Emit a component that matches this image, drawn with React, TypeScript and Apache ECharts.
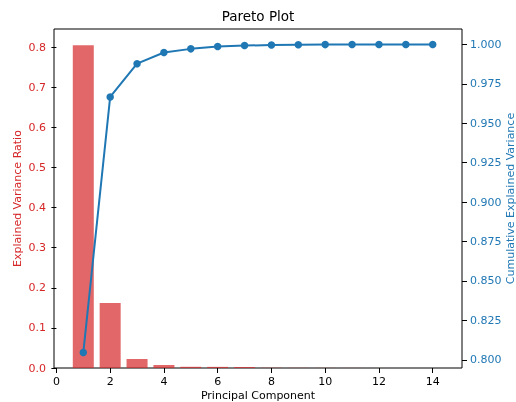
import React, { useEffect, useRef } from "react";
import * as echarts from "echarts";

const components = [1, 2, 3, 4, 5, 6, 7, 8, 9, 10, 11, 12, 13, 14];
const explainedRatio = [0.8046, 0.1621, 0.0222, 0.0075, 0.003, 0.0028, 0.0025, 0.0006, 0.0004, 0.0003, 0.0002, 0.0001, 0.00005, 0.00002];
const cumulative = [0.8046, 0.9667, 0.9878, 0.9949, 0.9972, 0.9987, 0.9993, 0.9996, 0.9998, 0.9999, 0.99995, 0.99998, 0.99999, 1.0];
const xTicks = [0, 2, 4, 6, 8, 10, 12, 14];
const rightTicks = [0.8, 0.825, 0.85, 0.875, 0.9, 0.925, 0.95, 0.975, 1.0];

const RED = "#d62728";
const BLUE = "#1f77b4";
const FONT = "DejaVu Sans";

export default function App() {
  const ref = useRef<HTMLDivElement>(null);
  useEffect(() => {
    if (!ref.current) return;
    const chart = echarts.init(ref.current, undefined, { renderer: "svg" });
    chart.setOption({
      animation: false,
      textStyle: { fontFamily: FONT },
      title: {
        text: "Pareto Plot",
        left: "center",
        top: 4,
        textStyle: { fontFamily: FONT, fontSize: 13.5, fontWeight: "normal", color: "#000" },
      },
      grid: {
        left: 54, right: 54, top: 29, bottom: 34,
        outerBoundsMode: "none",
        containLabel: false,
        show: true, borderColor: "#000", borderWidth: 1, backgroundColor: "transparent",
      },
      xAxis: {
        type: "value",
        min: -0.09,
        max: 15.09,
        name: "Principal Component",
        nameLocation: "middle",
        nameGap: 22,
        nameMoveOverlap: false,
        nameTextStyle: { fontFamily: FONT, fontSize: 11, color: "#000" },
        splitLine: { show: false },
        axisLine: { show: false },
        axisTick: { show: true, length: 5, lineStyle: { color: "#000" }, customValues: xTicks },
        axisLabel: { fontFamily: FONT, fontSize: 11, color: "#000", margin: 8, customValues: xTicks },
      },
      yAxis: [
        {
          type: "value",
          min: 0,
          max: 0.845,
          interval: 0.1,
          name: "Explained Variance Ratio",
          nameLocation: "middle",
          nameRotate: 90,
          nameGap: 31,
          nameMoveOverlap: false,
          nameTextStyle: { fontFamily: FONT, fontSize: 11, color: RED },
          splitLine: { show: false },
          axisLine: { show: false },
          axisTick: { show: true, length: 5, lineStyle: { color: "#000" } },
          axisLabel: { fontFamily: FONT, fontSize: 11, color: RED, margin: 8, formatter: (v: number) => v.toFixed(1), showMaxLabel: false },
        },
        {
          type: "value",
          position: "right",
          min: 0.7948,
          max: 1.0098,
          name: "Cumulative Explained Variance",
          nameLocation: "middle",
          nameRotate: 90,
          nameGap: 43,
          nameMoveOverlap: false,
          nameTextStyle: { fontFamily: FONT, fontSize: 11, color: BLUE },
          splitLine: { show: false },
          axisLine: { show: false },
          axisTick: { show: true, length: 5, lineStyle: { color: "#000" }, customValues: rightTicks },
          axisLabel: { fontFamily: FONT, fontSize: 11, color: BLUE, margin: 8, formatter: (v: number) => v.toFixed(3), customValues: rightTicks },
        },
      ],
      series: [
        {
          type: "bar",
          yAxisIndex: 0,
          barWidth: 21,
          itemStyle: { color: "rgba(214,39,40,0.7)" },
          data: components.map((c, i) => [c, explainedRatio[i]]),
        },
        {
          type: "line",
          yAxisIndex: 1,
          symbol: "circle",
          symbolSize: 7.5,
          lineStyle: { color: BLUE, width: 2 },
          itemStyle: { color: BLUE },
          data: components.map((c, i) => [c, cumulative[i]]),
        },
      ],
    });
    return () => chart.dispose();
  }, []);
  return <div ref={ref} style={{ position: "fixed", left: 0, top: 0, width: 516, height: 402 }} />;
}
